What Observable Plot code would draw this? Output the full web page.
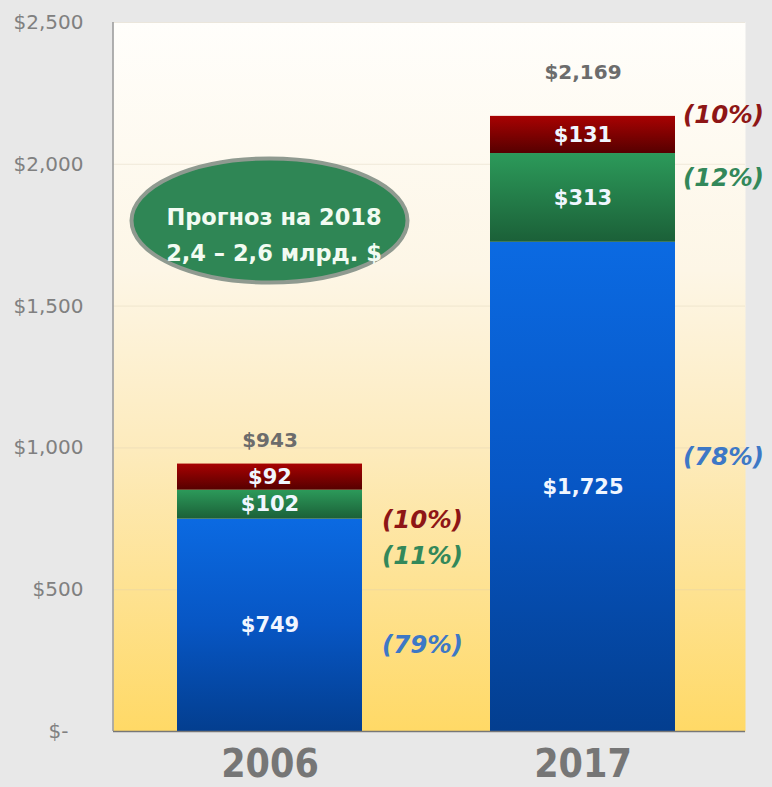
<!DOCTYPE html>
<html><head><meta charset="utf-8">
<script src="https://cdn.jsdelivr.net/npm/d3@7"></script>
<script src="https://cdn.jsdelivr.net/npm/@observablehq/plot@0.6"></script>
<style>
html,body{margin:0;padding:0;background:#e8e8e8;}
#chart svg{display:block;}
</style></head><body><div id="chart"></div>
<script>
// ---- data ----
const years = ["2006", "2017"];
const segments = ["s1", "s2", "s3"];          // bottom → top
const valuesS1 = [749, 1725];
const valuesS2 = [102, 313];
const valuesS3 = [92, 131];
const totals = [943, 2169];
const pctS1 = [79, 78];
const pctS2 = [11, 12];
const pctS3 = [10, 10];
const yTicks = [0, 500, 1000, 1500, 2000, 2500];
const forecastLines = ["Прогноз на 2018", "2,4 – 2,6 млрд. $"];
const forecastAt = {year: "2006", value: 1800};

// ---- build table ----
const segVals = [valuesS1, valuesS2, valuesS3];
const segPct = [pctS1, pctS2, pctS3];
const rows = [];
years.forEach((year, i) => {
  let base = 0;
  segments.forEach((s, k) => {
    const v = segVals[k][i];
    rows.push({year, seg: s, value: v, y1: base, y2: base + v, mid: base + v / 2, pct: segPct[k][i]});
    base += v;
  });
});
const totalRows = years.map((year, i) => ({year, total: totals[i]}));

const fmt = d3.format(",");
const gradIds = {s1: "gBlue", s2: "gGreen", s3: "gRed"};
const pctColor = {s1: "#3d78c6", s2: "#33885a", s3: "#8e1616"};

// label nudges (in value units, annotation placement)
const pctNudge = {"2006": {s1: -71, s2: -183, s3: -153}, "2017": {s1: 104, s2: 68, s3: 69}};
const pctDx = {"2006": 112, "2017": 100};
const totDy = {"2006": -23, "2017": -44};

const FONT = "DejaVu Sans, Verdana, sans-serif";

function leftLine(index, scales, values, dims) {
  const l = document.createElementNS("http://www.w3.org/2000/svg", "line");
  l.setAttribute("x1", dims.marginLeft); l.setAttribute("x2", dims.marginLeft);
  l.setAttribute("y1", dims.marginTop); l.setAttribute("y2", dims.height - dims.marginBottom);
  l.setAttribute("stroke", "#9a9a9a"); l.setAttribute("stroke-width", 1.5);
  return l;
}
function ellipseMark(index, scales) {
  const x = scales.x;
  const bw = typeof x.bandwidth === "function" ? x.bandwidth() : (x.bandwidth || 0);
  const e = document.createElementNS("http://www.w3.org/2000/svg", "ellipse");
  e.setAttribute("cx", x(forecastAt.year) + bw / 2);
  e.setAttribute("cy", scales.y(forecastAt.value));
  e.setAttribute("rx", 138); e.setAttribute("ry", 62);
  e.setAttribute("fill", "#2f8655");
  e.setAttribute("stroke", "#8f9a90"); e.setAttribute("stroke-width", 4);
  return e;
}

const marks = [
  Plot.frame({fill: "url(#gBg)"}),
  Plot.gridY(yTicks.slice(1), {stroke: "#d9cfb5", strokeOpacity: 0.35}),
  leftLine,
  Plot.axisY({ticks: yTicks.slice(1), tickFormat: d => "$" + fmt(d),
    tickSize: 0, tickPadding: 30, fontSize: 20, fontFamily: FONT, fill: "#808080", label: null}),
  Plot.text(yTicks.slice(0, 1), {y: d => d, text: () => "$-", frameAnchor: "left",
    textAnchor: "start", dx: -65, fontSize: 20, fontFamily: FONT, fill: "#808080"}),
  Plot.axisX({tickSize: 0, tickPadding: 18, fontSize: 39, fontWeight: "bold",
    fontFamily: "DejaVu Sans Condensed, Liberation Sans Narrow, sans-serif", fill: "#767676", label: null}),
  Plot.barY(rows, {x: "year", y1: "y1", y2: "y2", fill: "seg"}),
  Plot.ruleY([0], {stroke: "#777", strokeWidth: 1.5}),
  Plot.text(rows, {x: "year", y: "mid", text: d => "$" + fmt(d.value), fill: "#f0f6ff",
    fontSize: 21, fontWeight: "bold", fontFamily: FONT}),
  ellipseMark,
  Plot.text([forecastLines.join("\n")], {x: () => forecastAt.year, y: () => forecastAt.value,
    text: d => d, fill: "#f2fbf2", fontSize: 22.5, fontWeight: "bold", lineHeight: 1.6, dx: 4, dy: 10,
    fontFamily: FONT})
];
years.forEach(year => {
  marks.push(Plot.text(totalRows.filter(d => d.year === year), {x: "year", y: "total",
    text: d => "$" + fmt(d.total), dy: totDy[year], fill: "#6c6c6c", fontSize: 20,
    fontWeight: "bold", fontFamily: FONT}));
  marks.push(Plot.text(rows.filter(d => d.year === year), {x: "year",
    y: d => d.mid + pctNudge[year][d.seg], text: d => `(${d.pct}%)`,
    fill: d => pctColor[d.seg], textAnchor: "start", dx: pctDx[year],
    fontSize: 24.5, fontWeight: "bold", fontStyle: "italic", fontFamily: FONT}));
});

const plot = Plot.plot({
  width: 772, height: 787,
  marginLeft: 113, marginRight: 27, marginTop: 22, marginBottom: 56,
  style: {background: "#e8e8e8", fontFamily: FONT},
  x: {domain: years, paddingInner: 0.41, paddingOuter: 0.212, align: 0.48, axis: null},
  y: {domain: [0, 2500], axis: null},
  color: {domain: segments, range: segments.map(s => `url(#${gradIds[s]})`)},
  marks
});

const defs = d3.select(plot).insert("defs", ":first-child");
function grad(id, stops) {
  const g = defs.append("linearGradient").attr("id", id)
    .attr("x1", 0).attr("y1", 0).attr("x2", 0).attr("y2", 1);
  stops.forEach(([o, c]) => g.append("stop").attr("offset", o).attr("stop-color", c));
}
grad("gBg", [[0, "#fffefb"], [0.35, "#fdf6e6"], [0.6, "#fdebbd"], [1, "#ffd966"]]);
grad("gBlue", [[0, "#0b6ae2"], [0.5, "#0756c4"], [1, "#033e8f"]]);
grad("gGreen", [[0, "#2c9a5a"], [1, "#1b6038"]]);
grad("gRed", [[0, "#a80202"], [1, "#560000"]]);

document.getElementById("chart").appendChild(plot);
</script></body></html>
